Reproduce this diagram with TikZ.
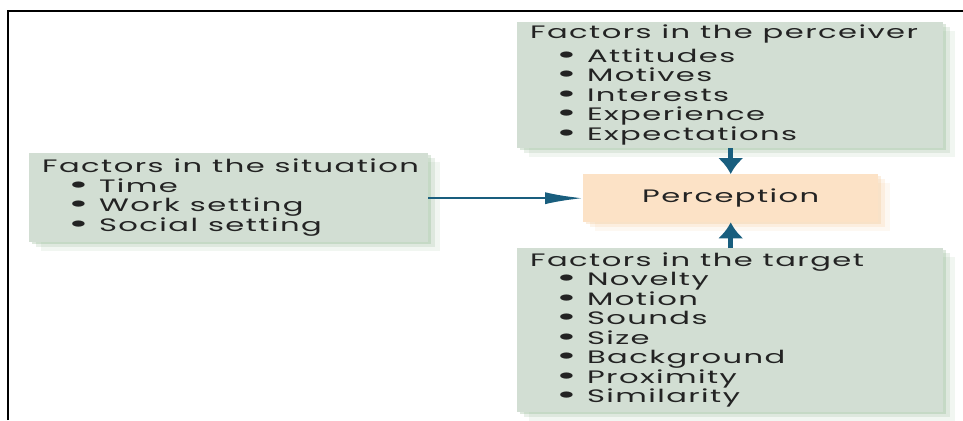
\documentclass[tikz,border=0pt]{standalone}
\usepackage{fontspec}
\setmainfont[FakeStretch=1.7,LetterSpace=8]{Poppins}
\usetikzlibrary{arrows.meta,shadows}
\definecolor{boxgreen}{RGB}{210,222,211}
\definecolor{shadowgreen}{RGB}{145,182,145}
\definecolor{peach}{RGB}{252,226,198}
\definecolor{shadowpeach}{RGB}{245,200,150}
\definecolor{arrowblue}{RGB}{25,94,126}
\definecolor{txt}{RGB}{35,35,35}
\newcommand{\bdot}{\hspace*{26pt}\raisebox{-1pt}[0pt][0pt]{\scalebox{1.35}[1.15]{\fontsize{22}{19.5}\selectfont\textbullet}}\hspace{10pt}}
\newcommand{\bitem}[1]{\\\bdot #1}
\begin{document}
\begin{tikzpicture}[x=1pt,y=1pt,
  softshadow/.style={
    general shadow={fill=#1,opacity=.30,shadow xshift=3pt,shadow yshift=-2pt},
    general shadow={fill=#1,opacity=.20,shadow xshift=7pt,shadow yshift=-5pt},
    general shadow={fill=#1,opacity=.12,shadow xshift=12pt,shadow yshift=-9pt}},
  boxtext/.style={text=txt, font=\fontsize{18}{19.5}\selectfont,
    execute at begin node={\spaceskip=10pt\relax}},
  factorbox/.style={softshadow=shadowgreen, fill=boxgreen, draw=none, anchor=north west,
    inner xsep=13pt, inner ysep=0pt, align=left, boxtext},
  percbox/.style={softshadow=shadowpeach, fill=peach, draw=none, anchor=north west,
    inner sep=0pt, boxtext},
  harrow/.style={draw=arrowblue, line width=2.5pt, -{Latex[length=38pt,width=12pt]}},
  varrow/.style={draw=arrowblue, line width=5pt, -{Latex[length=16pt,width=26pt]}},
  frameline/.style={draw=black, line width=2.5pt}
]
\useasboundingbox (0,0) rectangle (963,-420);
\fill[white] (0,0) rectangle (963,-420);
\draw[frameline] (8,-420) -- (8,-11) -- (963,-11);

\node[factorbox, minimum height=89pt, text width=373pt] (sit) at (29,-153)
  {Factors in the situation\bitem{Time}\bitem{Work setting}\bitem{Social setting}};

\node[factorbox, minimum height=126pt, text width=400pt] (perv) at (517,-22)
  {Factors in the perceiver\\[4pt]\bdot Attitudes\bitem{Motives}\bitem{Interests}\bitem{Experience}\bitem{Expectations}};

\node[percbox, minimum width=295pt, minimum height=48pt] (perc) at (583,-174) {Perception};

\node[factorbox, minimum height=164pt, text width=400pt] (targ) at (517,-248)
  {Factors in the target\bitem{Novelty}\bitem{Motion}\bitem{Sounds}\bitem{Size}\bitem{Background}\bitem{Proximity}\bitem{Similarity}};

\draw[harrow] (sit.east |- perc.west) -- (perc.west);
\draw[varrow] (perv.south -| perc.north) -- (perc.north);
\draw[varrow] (targ.north -| perc.south) -- (perc.south);
\end{tikzpicture}
\end{document}
